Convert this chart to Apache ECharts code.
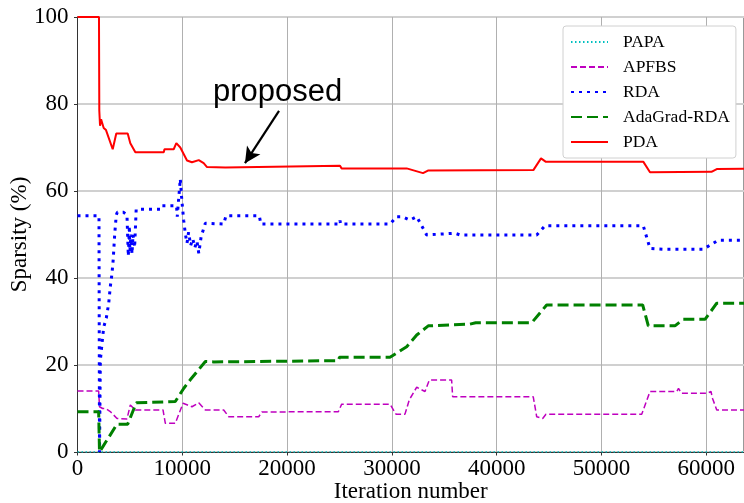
<!DOCTYPE html>
<html>
<head>
<meta charset="utf-8">
<script src="https://cdn.jsdelivr.net/npm/echarts@6/dist/echarts.min.js"></script>
<style>html,body{margin:0;padding:0;background:#fff}#c{width:744px;height:503px}</style>
</head>
<body>
<div id="c"></div>
<script>
// ---- data (iteration, sparsity %) ----
const seriesNames = ['PAPA', 'APFBS', 'RDA', 'AdaGrad-RDA', 'PDA'];
const xTicks = [0, 10000, 20000, 30000, 40000, 50000, 60000];
const yTicks = [0, 20, 40, 60, 80, 100];

const papa = [[0, 0], [63600, 0]];

const apfbs = [
  [0, 14.0], [2020, 14.0], [2100, 10.4], [2400, 10.0], [2700, 10.0], [3130, 9.3], [3770, 7.7],
  [4720, 7.6], [5040, 10.8], [5520, 9.66], [8160, 9.66], [8380, 6.6], [9330, 6.6],
  [10070, 11.2], [10500, 10.8], [10920, 10.4], [11570, 11.3], [12200, 9.66], [13950, 9.66],
  [14430, 8.1], [17290, 8.1], [17600, 9.2], [24890, 9.27], [25210, 11.0], [29820, 11.0],
  [30390, 8.7], [31250, 8.7], [31660, 12.0], [32370, 14.9], [33160, 13.9], [33570, 16.55],
  [35700, 16.55], [35800, 12.7], [43490, 12.7], [43820, 8.1], [44390, 7.7], [44700, 8.66],
  [53840, 8.66], [54630, 13.9], [57180, 13.9], [57350, 14.6], [57650, 13.5], [60040, 13.5],
  [60450, 13.9], [60600, 12.3], [61000, 9.66], [63600, 9.66]
];

const rda = [
  [0, 54.3], [2050, 54.3], [2100, 0], [2180, 21], [2340, 25], [2500, 28.7], [2750, 30.8],
  [2980, 34.2], [3130, 38], [3290, 41], [3400, 44], [3550, 50], [3700, 54.5], [3800, 55.1],
  [4400, 55.1], [4720, 54.5], [4850, 45], [4950, 52], [5000, 46], [5100, 50], [5200, 45.5],
  [5300, 50], [5450, 47], [5600, 55.8], [7900, 55.8], [8000, 56.6], [9450, 56.6], [9520, 54.1],
  [9600, 56.6], [9700, 56.6], [9810, 62.8], [9950, 58], [10130, 53.3], [10300, 50], [10450, 48],
  [10600, 50.5], [10800, 47.5], [11000, 49], [11200, 47], [11400, 48.5], [11570, 45.7],
  [11800, 49.5], [12200, 52.6], [13950, 52.4], [14170, 54.3], [17350, 54.3], [17500, 52.4],
  [25000, 52.4], [25050, 53.2], [25100, 52.4], [29820, 52.4], [30460, 54.1], [31000, 54.1],
  [31730, 53.3], [32370, 54.1], [33320, 49.9], [36000, 50.3], [36500, 49.9], [43820, 49.9],
  [44610, 52.0], [53990, 52.0], [54630, 46.8], [56000, 46.6], [59710, 46.6], [61150, 48.7],
  [63600, 48.7]
];

const adagrad = [
  [0, 9.27], [2020, 9.27], [2100, 0], [3770, 6.4], [4790, 6.4], [5610, 11.3], [9330, 11.6],
  [10130, 14.6], [10760, 16.6], [12200, 20.8], [13000, 20.7], [24890, 21.0], [25000, 21.8],
  [29820, 21.8], [31410, 24.2], [32370, 26.9], [33470, 29.0], [37450, 29.4], [38000, 29.7],
  [43340, 29.7], [44770, 33.8], [53930, 33.8], [54470, 29.0], [57010, 29.0], [57800, 30.5],
  [59880, 30.5], [61000, 34.2], [63600, 34.2]
];

const pda = [
  [0, 100], [2050, 100], [2080, 78.5], [2150, 75], [2250, 76.5], [2500, 74.5], [2720, 74],
  [3360, 69.6], [3700, 73.2], [4790, 73.2], [5040, 71], [5520, 68.9], [8230, 68.9], [8300, 69.6],
  [9180, 69.6], [9430, 71], [9810, 70], [10450, 67], [10920, 66.6], [11570, 67.1], [12040, 66.4],
  [12360, 65.5], [14100, 65.4], [14170, 65.8], [25050, 65.8], [25200, 65.2], [31410, 65.2],
  [32970, 64.1], [33440, 64.7], [43500, 64.8], [44230, 67.5], [44700, 66.7], [54000, 66.7],
  [54630, 64.3], [60500, 64.4], [61000, 65.05], [63600, 65.1]
];

// annotation: arrow tail -> head, and text anchor (data coordinates)
const arrowTail = [19230, 78.4];
const arrowHead = [15980, 66.4];
const noteAt = [19100, 82.6];
const noteText = 'proposed';

const serif = '"Liberation Serif", "DejaVu Serif", serif';

const chart = echarts.init(document.getElementById('c'), null, {renderer: 'canvas'});

function mk(name, data, color, width, type, z) {
  return {
    name: name, type: 'line', data: data, symbol: 'none', showSymbol: false,
    lineStyle: {color: color, width: width, type: type, cap: 'butt'},
    itemStyle: {color: color}, z: z, animation: false, clip: true
  };
}

const series = [
  mk(seriesNames[0], papa, '#00bfbf', 1.5, [1.5, 2.5], 2),
  mk(seriesNames[1], apfbs, '#bf00bf', 1.5, [6, 3], 3),
  mk(seriesNames[2], rda, '#0000ff', 3, [3, 5], 4),
  mk(seriesNames[3], adagrad, '#008000', 3, [11, 5], 5),
  mk(seriesNames[4], pda, '#ff0000', 2, 'solid', 6)
];
series[4].markLine = {
  silent: true, symbol: ['none', 'arrow'], symbolSize: [12, 16], animation: false,
  label: {show: false},
  lineStyle: {color: '#000', width: 2.2, type: 'solid'},
  data: [[{coord: arrowTail}, {coord: arrowHead}]]
};
series[4].markPoint = {
  silent: true, animation: false, symbol: 'circle', symbolSize: 0,
  itemStyle: {color: 'rgba(0,0,0,0)'},
  label: {show: true, position: 'inside', formatter: noteText, color: '#000',
          fontFamily: '"Liberation Sans", Arial, sans-serif', fontSize: 31},
  data: [{coord: noteAt}]
};

chart.setOption({
  animation: false,
  grid: {left: 77.5, right: 0, top: 17, bottom: 51, containLabel: false,
         outerBoundsMode: 'none',
         show: true, borderColor: '#333', borderWidth: 1},
  legend: {
    data: seriesNames, orient: 'vertical', left: 563, top: 26,
    padding: [7, 6, 7, 7], itemGap: 7, itemWidth: 37, itemHeight: 14,
    backgroundColor: '#fff', borderColor: '#d0d0d0', borderWidth: 1, borderRadius: 3,
    itemStyle: {opacity: 0},
    textStyle: {fontFamily: serif, fontSize: 17.5, color: '#000', padding: [0, 0, 0, 10]},
    selectedMode: false
  },
  xAxis: {
    type: 'value', min: 0, max: 63600, interval: 10000,
    name: 'Iteration number', nameLocation: 'middle', nameGap: 28, nameMoveOverlap: false,
    nameTextStyle: {fontFamily: serif, fontSize: 23, color: '#000'},
    axisLine: {show: true, lineStyle: {color: '#333', width: 1}},
    axisTick: {show: true, length: 3.5, lineStyle: {color: '#333'}},
    axisLabel: {fontFamily: serif, fontSize: 23, color: '#000', margin: 5,
                showMaxLabel: false, formatter: function (v) { return String(v); }},
    splitLine: {show: true, lineStyle: {color: '#b0b0b0', width: 1}}
  },
  yAxis: {
    type: 'value', min: 0, max: 100, interval: 20,
    name: 'Sparsity (%)', nameLocation: 'middle', nameGap: 46, nameMoveOverlap: false,
    nameTextStyle: {fontFamily: serif, fontSize: 23, color: '#000'},
    axisLine: {show: true, lineStyle: {color: '#333', width: 1}},
    axisTick: {show: true, length: 3.5, lineStyle: {color: '#333'}},
    axisLabel: {fontFamily: serif, fontSize: 23, color: '#000', margin: 9},
    splitLine: {show: true, lineStyle: {color: '#d0d0d0', width: 2}}
  },
  series: series
});
</script>
</body>
</html>
